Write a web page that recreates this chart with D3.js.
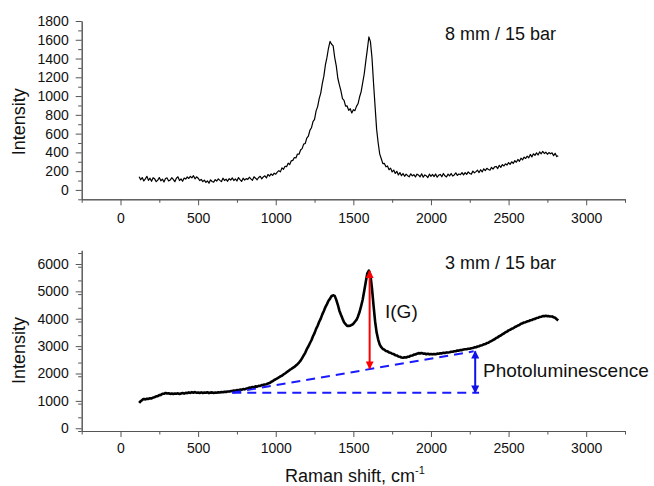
<!DOCTYPE html>
<html>
<head>
<meta charset="utf-8">
<script src="https://cdn.jsdelivr.net/npm/d3@7/dist/d3.min.js"></script>
<style>
  html, body { margin: 0; padding: 0; background: #fff; }
  svg { display: block; }
  text { font-family: "Liberation Sans", Arial, sans-serif; fill: #111; }
</style>
</head>
<body>
<svg id="chart" width="654" height="486"></svg>
<script>
// ---------------- data ----------------
const shiftStart = 120, shiftStep = 10;   // Raman shift grid (cm-1), 120 .. 2820
// 8 mm / 15 bar spectrum
const intensityTop = [
  140,108,132,95,118,145,102,125,92,130,
  118,88,104,132,97,115,85,122,128,96,
  105,130,112,88,125,140,100,118,92,126,
  115,138,122,145,128,152,118,140,125,100,
  112,88,105,80,96,72,108,90,82,110,
  95,118,102,88,125,100,115,92,120,105,
  128,100,118,95,132,110,90,125,105,120,
  112,135,118,102,140,125,108,132,145,118,
  138,150,128,165,148,170,155,178,168,190,
  205,192,235,220,252,248,285,270,310,315,
  345,340,382,380,425,440,488,495,552,572,
  635,662,728,752,842,888,972,1032,1132,1212,
  1332,1412,1512,1582,1552,1535,1410,1322,1190,1120,
  1055,972,955,892,895,848,865,820,855,845,
  890,918,990,1045,1140,1235,1370,1495,1630,1580,
  1410,1140,890,645,500,382,332,280,282,246,
  255,215,232,192,212,175,198,160,185,152,
  175,145,168,152,140,172,150,162,138,168,
  158,140,172,135,160,150,132,168,145,165,
  142,170,135,158,165,140,175,150,138,168,
  150,175,148,160,182,155,170,162,185,160,
  185,165,192,175,168,200,182,195,210,185,
  215,192,225,205,230,218,210,240,222,245,
  250,228,262,240,270,255,278,265,292,272,
  300,282,312,295,325,305,338,320,350,335,
  360,342,378,352,385,368,395,372,405,385,
  410,388,402,380,398,385,395,365,390,355,
  365
];
// 3 mm / 15 bar spectrum
const intensityBottom = [
  925,990,1035,1070,1055,1080,1072,1098,1090,1122,
  1135,1168,1175,1210,1220,1262,1258,1290,1268,1280,
  1255,1272,1250,1268,1260,1275,1252,1270,1285,1265,
  1295,1280,1310,1292,1318,1300,1322,1295,1308,1290,
  1312,1288,1305,1295,1315,1285,1302,1310,1290,1305,
  1298,1315,1308,1325,1318,1335,1328,1345,1340,1355,
  1362,1378,1370,1395,1388,1410,1405,1430,1422,1450,
  1462,1485,1480,1508,1500,1530,1522,1550,1545,1575,
  1585,1600,1610,1632,1650,1690,1720,1765,1790,1825,
  1855,1895,1920,1965,2000,2045,2085,2130,2165,2205,
  2240,2290,2340,2400,2470,2560,2660,2755,2890,2985,
  3105,3215,3360,3475,3630,3745,3890,4005,4160,4285,
  4425,4535,4660,4735,4830,4855,4835,4690,4510,4295,
  4145,4005,3875,3800,3735,3740,3745,3780,3815,3890,
  3955,4085,4245,4460,4695,5010,5345,5660,5760,5590,
  5110,4490,3910,3495,3240,3055,2960,2895,2870,2825,
  2810,2770,2760,2720,2710,2670,2660,2620,2610,2585,
  2575,2595,2585,2610,2615,2650,2655,2690,2695,2725,
  2745,2735,2750,2725,2730,2705,2720,2700,2710,2700,
  2715,2705,2725,2720,2740,2735,2755,2750,2770,2765,
  2775,2795,2795,2815,2815,2840,2835,2855,2855,2875,
  2885,2885,2905,2905,2925,2930,2955,2960,2985,2995,
  3025,3035,3065,3075,3110,3125,3165,3185,3225,3250,
  3295,3320,3365,3390,3435,3460,3505,3530,3575,3595,
  3635,3655,3695,3715,3755,3775,3815,3835,3865,3875,
  3905,3915,3945,3955,3985,3995,4025,4035,4065,4075,
  4095,4095,4110,4095,4095,4080,4085,4055,4035,3985,
  3940
];
const xTicks = [0, 500, 1000, 1500, 2000, 2500, 3000];
const yTicksTop = [0, 200, 400, 600, 800, 1000, 1200, 1400, 1600, 1800];
const yTicksBottom = [0, 1000, 2000, 3000, 4000, 5000, 6000];
const panelTitles = ["8 mm / 15 bar", "3 mm / 15 bar"];
// annotation lines (bottom panel): [x1, y1, x2, y2] in data units
const baselineFlat = [720, 1300, 2310, 1300];
const baselineSloped = [720, 1300, 2275, 2810];
const arrowIG = [1605, 2180, 1605, 5750];
const arrowPL = [2285, 1300, 2285, 2810];

// ---------------- drawing ----------------
const svg = d3.select("#chart");
const shifts = d3.range(intensityTop.length).map(i => shiftStart + i * shiftStep);

const x = d3.scaleLinear().domain([-250, 3250]).range([81.7, 625]);
const yTop = d3.scaleLinear().domain([-100, 1800]).range([199.3, 21]);
const yBot = d3.scaleLinear().domain([-100, 6500]).range([431, 250.3]);

const axisColor = "#555";
const fmt = d3.format("d");

function drawAxes(y, yMajor, yMinorStep, yMin, yMax, xPad) {
  const g = svg.append("g");
  const baseY = y.range()[0];
  const xMinor = d3.range(-250, 3251, 500);
  g.append("g").attr("transform", `translate(0,${baseY})`)
    .call(d3.axisBottom(x).tickValues(xMinor).tickSize(3.5).tickSizeOuter(0).tickFormat(""));
  g.append("g").attr("transform", `translate(0,${baseY})`)
    .call(d3.axisBottom(x).tickValues(xTicks).tickSize(6).tickSizeOuter(0).tickPadding(xPad).tickFormat(fmt))
    .call(a => a.selectAll("text").attr("font-size", 14));
  const yMinor = d3.range(yMin, yMax + 1, yMinorStep).filter(v => !yMajor.includes(v));
  g.append("g").attr("transform", `translate(${x.range()[0]},0)`)
    .call(d3.axisLeft(y).tickValues(yMinor).tickSize(3.5).tickSizeOuter(0).tickFormat(""));
  g.append("g").attr("transform", `translate(${x.range()[0]},0)`)
    .call(d3.axisLeft(y).tickValues(yMajor).tickSize(6).tickSizeOuter(0).tickPadding(7).tickFormat(fmt))
    .call(a => a.selectAll("text").attr("font-size", 14));
  g.selectAll(".domain, .tick line").attr("stroke", axisColor).attr("stroke-width", 1);
  g.selectAll("text").style("fill", "#111")
    .attr("font-family", '"Liberation Sans", Arial, sans-serif');
}

drawAxes(yTop, yTicksTop, 100, -100, 1800, 8);
drawAxes(yBot, yTicksBottom, 500, -100, 6500, 6);

// spectra
const lineTop = d3.line().x((d, i) => x(shifts[i])).y(d => yTop(d));
const lineBot = d3.line().x((d, i) => x(shifts[i])).y(d => yBot(d));
svg.append("path").datum(intensityTop).attr("d", lineTop)
  .attr("fill", "none").attr("stroke", "#000").attr("stroke-width", 1.2).attr("stroke-linejoin", "round");
svg.append("path").datum(intensityBottom).attr("d", lineBot)
  .attr("fill", "none").attr("stroke", "#000").attr("stroke-width", 2.6).attr("stroke-linejoin", "round");

// dashed baselines
[baselineFlat, baselineSloped].forEach(l => {
  svg.append("line")
    .attr("x1", x(l[0])).attr("y1", yBot(l[1])).attr("x2", x(l[2])).attr("y2", yBot(l[3]))
    .attr("stroke", "#1a1aff").attr("stroke-width", 2).attr("stroke-dasharray", "9,6");
});

// arrow markers
const defs = svg.append("defs");
function marker(id, color) {
  defs.append("marker").attr("id", id)
    .attr("viewBox", "0 0 10 10").attr("refX", 9).attr("refY", 5)
    .attr("markerWidth", 9).attr("markerHeight", 8)
    .attr("markerUnits", "userSpaceOnUse")
    .attr("orient", "auto-start-reverse")
    .append("path").attr("d", "M0,0L10,5L0,10Z").attr("fill", color);
}
marker("arrRed", "#ff0000");
marker("arrBlue", "#1010e8");
function arrow(a, color, id) {
  svg.append("line")
    .attr("x1", x(a[0])).attr("y1", yBot(a[1])).attr("x2", x(a[2])).attr("y2", yBot(a[3]))
    .attr("stroke", color).attr("stroke-width", 2)
    .attr("marker-start", `url(#${id})`).attr("marker-end", `url(#${id})`);
}
arrow(arrowIG, "#ff0000", "arrRed");
arrow(arrowPL, "#1010e8", "arrBlue");

// texts
svg.append("text").attr("x", 445).attr("y", 39.5).attr("font-size", 18).text(panelTitles[0]);
svg.append("text").attr("x", 445).attr("y", 269).attr("font-size", 18).text(panelTitles[1]);
svg.append("text").attr("x", 385).attr("y", 318).attr("font-size", 19).text("I(G)");
svg.append("text").attr("x", 483).attr("y", 377).attr("font-size", 19).text("Photoluminescence");

svg.append("text").attr("transform", "translate(25,121.7) rotate(-90)")
  .attr("text-anchor", "middle").attr("font-size", 18).text("Intensity");
svg.append("text").attr("transform", "translate(25,350.5) rotate(-90)")
  .attr("text-anchor", "middle").attr("font-size", 18).text("Intensity");

const xl = svg.append("text").attr("x", 285).attr("y", 482).attr("font-size", 18);
xl.append("tspan").text("Raman shift, cm");
xl.append("tspan").attr("font-size", 11).attr("dy", -8).text("-1");
</script>
</body>
</html>
